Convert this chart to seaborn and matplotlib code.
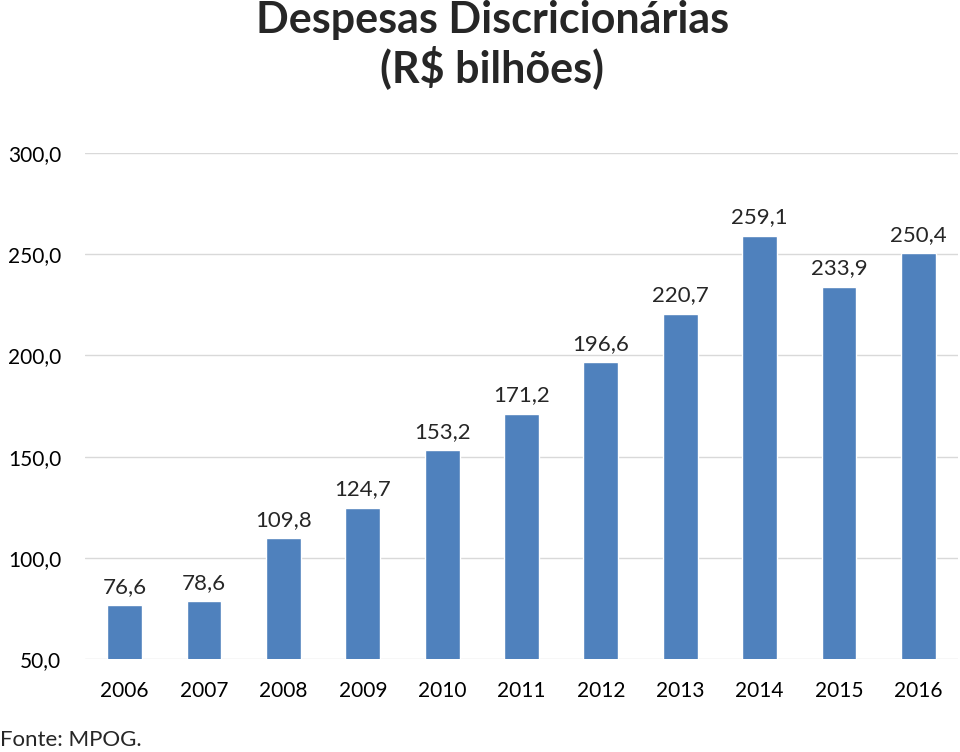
import pandas as pd
import matplotlib.pyplot as plt
import seaborn as sns

sns.set_style("white")
plt.rcParams['font.family'] = ['Lato', 'DejaVu Sans']

# Data
years = ['2006', '2007', '2008', '2009', '2010', '2011', '2012', '2013', '2014', '2015', '2016']
values = [76.6, 78.6, 109.8, 124.7, 153.2, 171.2, 196.6, 220.7, 259.1, 233.9, 250.4]
y_ticks = [50, 100, 150, 200, 250, 300]

df = pd.DataFrame({'ano': years, 'valor': values})

fig = plt.figure(figsize=(9.6, 7.52), dpi=100)
ax = fig.add_axes([0.0885, 0.1237, 0.9095, 0.6728])

sns.barplot(data=df, x='ano', y='valor', color='#4F81BD', saturation=1, width=0.44, ax=ax)

ax.set_ylim(50, 300)
ax.set_yticks(y_ticks)
ax.set_yticklabels([f"{v:.1f}".replace('.', ',') for v in y_ticks])
ax.grid(axis='y', color='#D9D9D9', linewidth=1)
ax.set_axisbelow(True)
sns.despine(left=True, bottom=True)
ax.tick_params(axis='both', length=0, labelsize=15, colors='black')
ax.tick_params(axis='x', labelsize=15, pad=16)
ax.tick_params(axis='y', pad=17)
ax.set_xlabel('')
ax.set_ylabel('')

# Value labels
for container in ax.containers:
    ax.bar_label(container, labels=[f"{v:.1f}".replace('.', ',') for v in values],
                 padding=6, fontsize=16)

fig.text(0.513, 1.0, 'Despesas Discricionárias\n(R$ bilhões)', ha='center', va='top',
         fontsize=31, fontweight='bold', linespacing=1.15)
fig.text(0.0, 0.002, 'Fonte: MPOG.', ha='left', va='bottom', fontsize=16)

plt.savefig('out.png', dpi=100)
